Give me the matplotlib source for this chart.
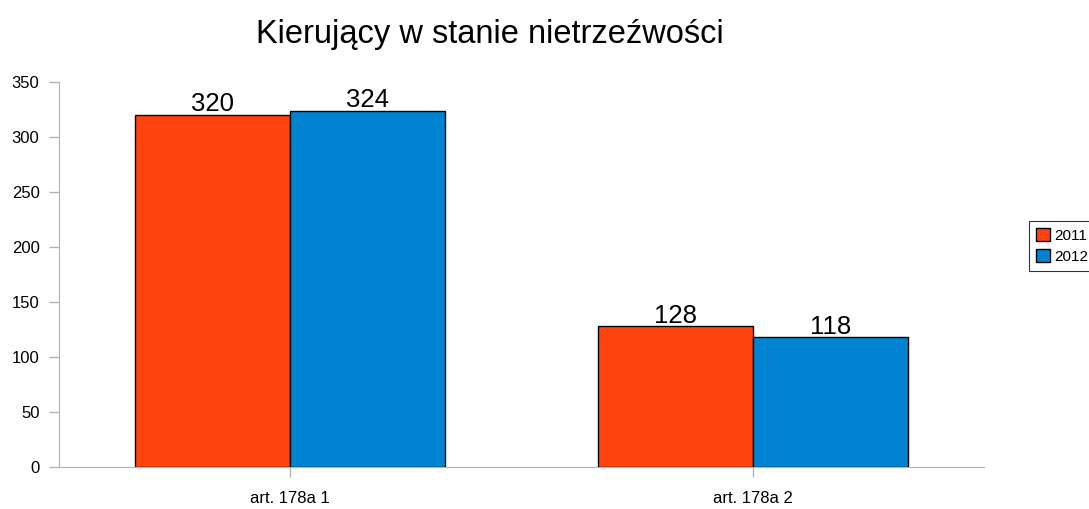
import matplotlib.pyplot as plt
import numpy as np

plt.rcParams['font.family'] = ['Liberation Sans', 'DejaVu Sans']

categories = ['art. 178a 1', 'art. 178a 2']
years = ['2011', '2012']
values_2011 = [320, 128]
values_2012 = [324, 118]
colors = ['#FF420E', '#0084D1']

fig = plt.figure(figsize=(10.89, 5.09), dpi=100)
ax = fig.add_axes([59 / 1089, 1 - 467 / 509, 925 / 1089, 385 / 509])

x = np.arange(len(categories))
w = 0.335
b1 = ax.bar(x - w, values_2011, w, align='edge', color=colors[0],
            edgecolor='black', linewidth=1, label=years[0])
b2 = ax.bar(x, values_2012, w, align='edge', color=colors[1],
            edgecolor='black', linewidth=1, label=years[1])
for bars in (b1, b2):
    ax.bar_label(bars, fontsize=18.5, padding=-1)

ax.set_xlim(-0.5, 1.5)
ax.set_ylim(0, 350)
ax.set_yticks(range(0, 351, 50))
ax.set_xticks(x)
ax.set_xticklabels(categories, fontsize=12)
ax.tick_params(axis='y', labelsize=12, length=7, color='#b3b3b3', width=1, pad=7)
ax.tick_params(axis='x', length=7, color='#b3b3b3', width=1, pad=10.5)
for s in ('top', 'right'):
    ax.spines[s].set_visible(False)
for s in ('left', 'bottom'):
    ax.spines[s].set_color('#b3b3b3')

fig.text(490 / 1089, 1 - 34 / 509, 'Kierujący w stanie nietrzeźwości',
         ha='center', va='center', fontsize=23.5)

leg = fig.legend(loc='center left', bbox_to_anchor=(1029 / 1089, 1 - 246 / 509),
                 fontsize=11, frameon=True, fancybox=False, edgecolor='black',
                 handlelength=0.9, handleheight=0.9, handletextpad=0.3,
                 borderpad=0.45, labelspacing=0.45, borderaxespad=0)
leg.get_frame().set_linewidth(0.8)

fig.savefig('out.png', dpi=100)
